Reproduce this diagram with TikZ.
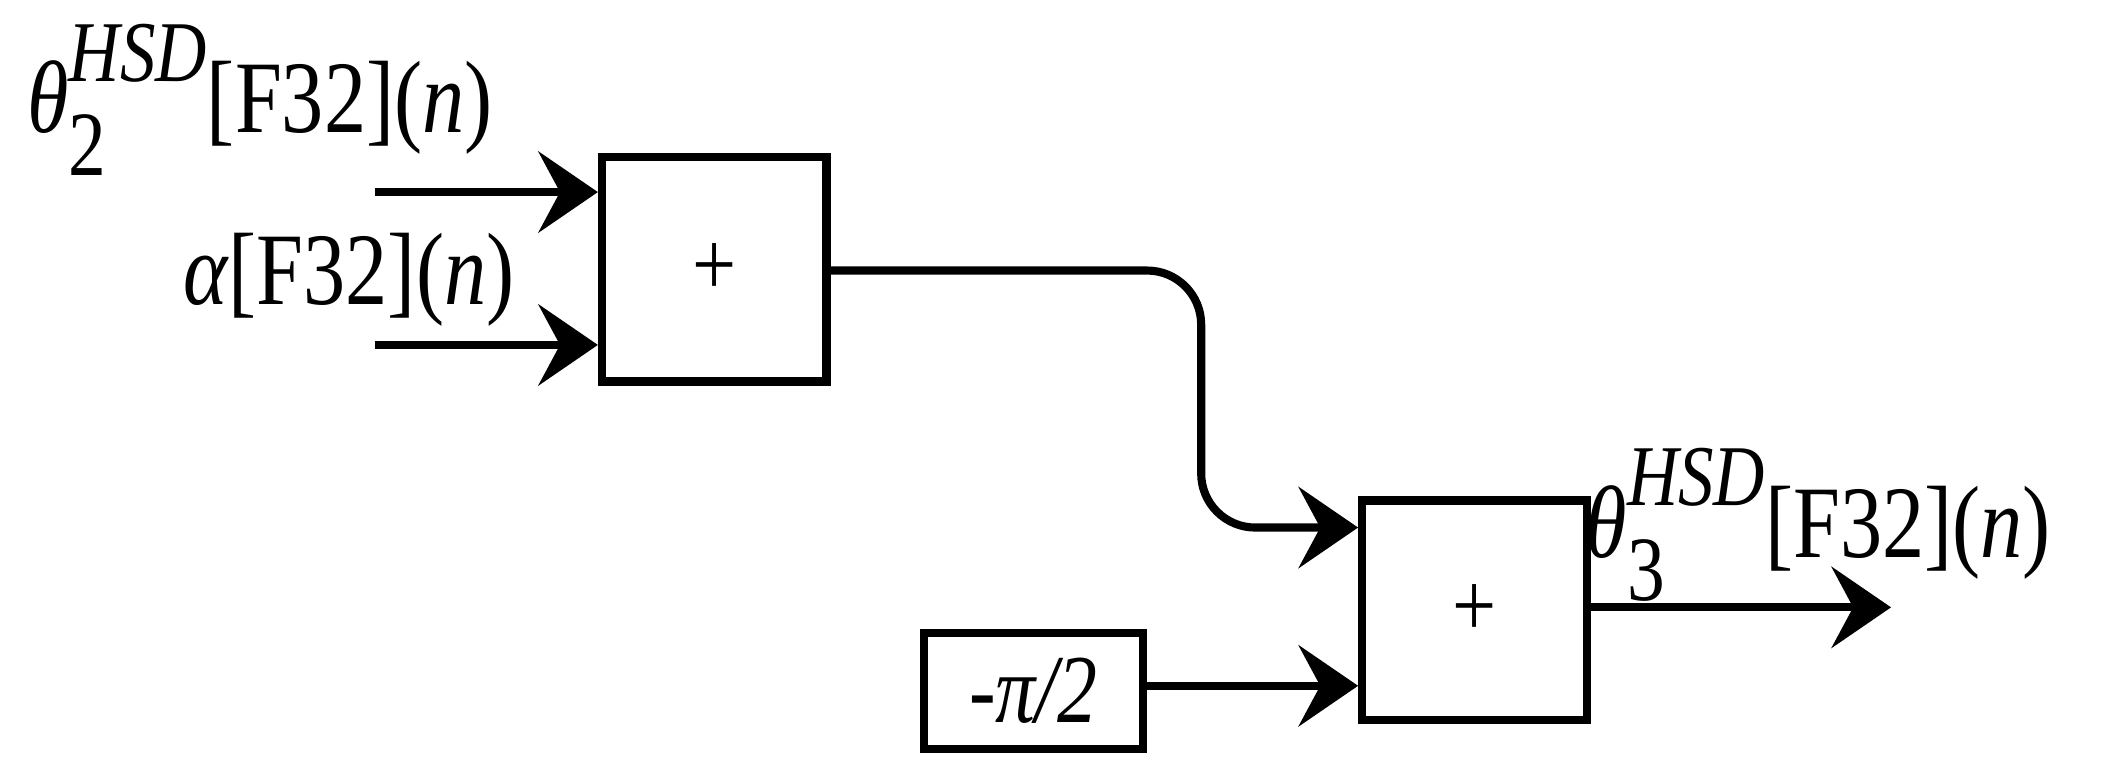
\documentclass[tikz,border=0pt]{standalone}
\usepackage{fontspec}
\setmainfont{Liberation Serif}
\usetikzlibrary{arrows.meta}
\newcommand{\thsd}[1]{\textit{θ}\rlap{\raisebox{-0.42em}{\fontsize{34}{36}\selectfont #1}}\raisebox{0.5em}{\fontsize{32}{34}\selectfont\textit{HSD}}}
\begin{document}
\begin{tikzpicture}[x=0.5pt,y=-0.5pt,
  blk/.style={draw,line width=3pt,inner sep=0,anchor=north west},
  con/.style={line width=3pt,-{Stealth[length=22pt,width=30pt,inset=8pt]}},
  lbl/.style={font=\fontsize{38}{40}\selectfont,inner sep=0,anchor=base west,xscale=0.82,transform shape}]
\useasboundingbox (0,0) rectangle (1568,577);
\node[blk,minimum width=83pt,minimum height=83pt] (b1) at (442,113) {};
\node[font=\fontsize{34}{36}\selectfont,xscale=0.85,transform shape] (p1) at (b1.center) {+};
\node[blk,minimum width=83pt,minimum height=81pt] (b2) at (1004,367) {};
\node[font=\fontsize{34}{36}\selectfont,xscale=0.85,transform shape] (p2) at (b2.center) {+};
\node[blk,minimum width=81pt,minimum height=43pt] (c) at (680,465) {};
\node[font=\fontsize{36}{38}\selectfont\itshape,xscale=0.82,transform shape] (cl) at (c.center) {-π/2};
\coordinate (i1) at (277,142);
\coordinate (i2) at (277,255);
\coordinate (o) at (1398,449);
\draw[con] (i1) -- (i1 -| b1.west);
\draw[con] (i2) -- (i2 -| b1.west);
\draw[con,rounded corners=20pt] (b1.east |- 0,200) -- (888,200) -- (888,390) -- (b2.west |- 0,390);
\draw[con] (c.east |- 0,507) -- (b2.west |- 0,507);
\draw[con] (b2.east |- o) -- (o);
\node[lbl] (t1) at (20,98) {\thsd{2}[F32](\textit{n})};
\node[lbl] (t2) at (135,225) {\textit{α}[F32](\textit{n})};
\node[lbl] (t3) at (1172,412) {\thsd{3}[F32](\textit{n})};
\end{tikzpicture}
\end{document}
